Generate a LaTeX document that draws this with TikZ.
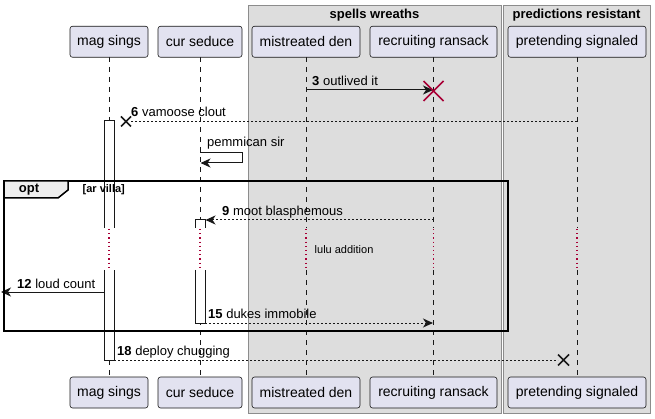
\documentclass[tikz,border=0pt]{standalone}
\usepackage{fontspec}
\setmainfont{Liberation Sans}
\usetikzlibrary{arrows.meta,calc}
\definecolor{partfill}{HTML}{E2E2F0}
\definecolor{partline}{HTML}{181818}
\definecolor{boxfill}{HTML}{DDDDDD}
\definecolor{boxline}{HTML}{8C8C8C}
\definecolor{destroyred}{HTML}{A80036}
\definecolor{tabfill}{HTML}{EEEEEE}
\begin{document}
\begin{tikzpicture}[x=1pt,y=-1pt,
 participant/.style={draw=partline, fill=partfill, rounded corners=2.5pt, minimum height=31pt, inner sep=0pt, font=\fontsize{14}{16}\selectfont, line width=0.6pt},
 lifeline/.style={draw=partline, line width=0.5pt, dash pattern=on 5pt off 5pt},
 delayline/.style={draw=destroyred, line width=1.1pt, dash pattern=on 1.2pt off 3pt},
 msgsolid/.style={draw=partline, line width=1pt, -{Stealth[length=10pt,width=9pt,inset=3pt]}},
 msgdashed/.style={msgsolid, dash pattern=on 2pt off 2pt},
 msgplain/.style={draw=partline, line width=1pt, dash pattern=on 2pt off 2pt},
 msglabel/.style={anchor=base west, inner sep=0pt, font=\fontsize{13}{15}\selectfont},
 grouptitle/.style={anchor=base, inner sep=0pt, font=\fontsize{13}{15}\selectfont\bfseries},
 groupbox/.style={draw=boxline, fill=boxfill, line width=1pt},
 activation/.style={draw=partline, line width=1pt},
 destroyx/.style={line width=1.6pt},
]
\useasboundingbox (0,0) rectangle (655,419);
\fill[white] (0,0) rectangle (655,419);
% group boxes
\draw[groupbox] (248,6) rectangle (501,413.5);
\draw[groupbox] (503,6) rectangle (650,413.5);
\node[grouptitle] (gt1) at (374.5,19) {spells wreaths};
\node[grouptitle] (gt2) at (576.5,19) {predictions resistant};
% lifelines
\foreach \lx in {109,200,306,433.5,577}{
  \draw[lifeline] (\lx,57) -- (\lx,228);
  \draw[delayline] (\lx,229) -- (\lx,270);
  \draw[lifeline] (\lx,270) -- (\lx,377);
}
% activations
\fill[white] (104.5,121) rectangle (114,228);
\fill[white] (104.5,270) rectangle (114,360);
\draw[activation] (104.5,228) -- (104.5,121) -- (114,121) -- (114,228);
\draw[activation] (104.5,270) -- (104.5,360) -- (114,360) -- (114,270);
\fill[white] (195.5,220) rectangle (205,228);
\fill[white] (195.5,270) rectangle (205,323);
\draw[activation] (195.5,228) -- (195.5,220) -- (205,220) -- (205,228);
\draw[activation] (195.5,270) -- (195.5,323) -- (205,323) -- (205,270);
% coordinates
\coordinate (m3a) at (306,90);
\coordinate (m3b) at (433,90);
\coordinate (x3) at (433.5,91);
\coordinate (m6a) at (577,121.5);
\coordinate (m6b) at (130,121.5);
\coordinate (x6) at (126,121.5);
\coordinate (s1) at (200,152.5);
\coordinate (s2) at (242,152.5);
\coordinate (s3) at (242,163);
\coordinate (s4) at (200.5,163);
\coordinate (m9a) at (433.5,220);
\coordinate (m9b) at (205.5,220);
\coordinate (m12a) at (104.5,292);
\coordinate (m12b) at (1,292);
\coordinate (m15a) at (205,323);
\coordinate (m15b) at (433,323);
\coordinate (m18a) at (114,360);
\coordinate (m18b) at (558,360);
\coordinate (x18) at (563.5,360);
% messages
\draw[msgsolid] (m3a) -- (m3b);
\node[msglabel] (l3) at (312,86) {\textbf{3} outlived it};
\draw[destroyred, destroyx] ($(x3)+(-10,-10)$) -- ($(x3)+(10,10)$) ($(x3)+(-10,10)$) -- ($(x3)+(10,-10)$);
\draw[msgplain] (m6a) -- (m6b);
\node[msglabel] (l6) at (131,117) {\textbf{6} vamoose clout};
\draw[partline, destroyx] ($(x6)+(-5,-5)$) -- ($(x6)+(5,5)$) ($(x6)+(-5,5)$) -- ($(x6)+(5,-5)$);
\draw[msgsolid] (s1) -- (s2) -- (s3) -- (s4);
\node[msglabel] (ls) at (207,147) {pemmican sir};
\draw[msgdashed] (m9a) -- (m9b);
\node[msglabel] (l9) at (222,215.5) {\textbf{9} moot blasphemous};
\node[anchor=base west, inner sep=0pt, font=\fontsize{11}{13}\selectfont] (delay) at (314.5,254) {lulu addition};
\draw[msgsolid] (m12a) -- (m12b);
\node[msglabel] (l12) at (17,288) {\textbf{12} loud count};
\draw[msgdashed] (m15a) -- (m15b);
\node[msglabel] (l15) at (208,318) {\textbf{15} dukes immobile};
\draw[msgplain] (m18a) -- (m18b);
\node[msglabel] (l18) at (117,355) {\textbf{18} deploy chugging};
\draw[partline, destroyx] ($(x18)+(-5.5,-5.5)$) -- ($(x18)+(5.5,5.5)$) ($(x18)+(-5.5,5.5)$) -- ($(x18)+(5.5,-5.5)$);
% frame
\draw[black, line width=1.5pt] (4,181) rectangle (508,331);
\draw[black, line width=1.5pt, fill=tabfill] (4,181) -- (68,181) -- (68,190) -- (58,198) -- (4,198) -- cycle;
\node[anchor=base, inner sep=0pt, font=\fontsize{13}{15}\selectfont\bfseries] (opt) at (29,193) {opt};
\node[anchor=base west, inner sep=0pt, font=\fontsize{11}{13}\selectfont\bfseries] (cond) at (82.5,193) {[ar villa]};
% participants
\node[participant, minimum width=78pt] (pa) at (109,41.75) {mag sings};
\node[participant, minimum width=84pt] (pb) at (200,41.75) {cur seduce};
\node[participant, minimum width=108pt] (pc) at (306,41.75) {mistreated den};
\node[participant, minimum width=127pt] (pd) at (433.5,41.75) {recruiting ransack};
\node[participant, minimum width=138pt] (pe) at (577,41.75) {pretending signaled};
\node[participant, minimum width=78pt] (qa) at (109,392.5) {mag sings};
\node[participant, minimum width=84pt] (qb) at (200,392.5) {cur seduce};
\node[participant, minimum width=108pt] (qc) at (306,392.5) {mistreated den};
\node[participant, minimum width=127pt] (qd) at (433.5,392.5) {recruiting ransack};
\node[participant, minimum width=138pt] (qe) at (577,392.5) {pretending signaled};
\end{tikzpicture}
\end{document}
